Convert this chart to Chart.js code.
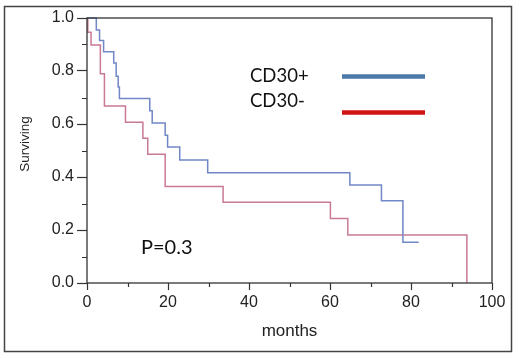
<!DOCTYPE html>
<html>
<head>
<meta charset="utf-8">
<script src="https://cdn.jsdelivr.net/npm/chart.js@4"></script>
<style>
  body { margin: 0; background: #fff; }
  canvas { display: block; }
</style>
</head>
<body>
<canvas id="kmChart" width="520" height="359"></canvas>
<script>
// Kaplan-Meier steps (months, surviving fraction)
var plusMonths = [0, 2.3, 3.1, 4.1, 6.6, 7.2, 7.7, 8.0, 15.5, 16.1, 19.3, 19.9, 22.9, 29.8, 64.9, 72.7, 78.0, 81.9];
var plusSurv = [1.0, 0.955, 0.915, 0.873, 0.83, 0.78, 0.74, 0.696, 0.65, 0.604, 0.558, 0.513, 0.464, 0.416, 0.37, 0.31, 0.154, 0.154];

var minusMonths = [0, 0.2, 1.0, 3.3, 4.3, 9.5, 13.8, 15.0, 19.3, 33.6, 60.1, 64.4, 93.8];
var minusSurv = [1.0, 0.946, 0.898, 0.79, 0.668, 0.607, 0.546, 0.486, 0.364, 0.305, 0.243, 0.181, 0.0];

var seriesNames = ["CD30+", "CD30-"];
var lineColors = ["#7187c6", "#c97a93"];
var legendColors = ["#4d79a8", "#d11414"];

var yMinorTicks = [0.1, 0.3, 0.5, 0.7, 0.9];
var xMinorTicks = [10, 30, 50, 70, 90];
var pValueText = "P=0.3";

function toPoints(xs, ys) {
  return xs.map((x, i) => ({ x: x, y: ys[i] }));
}

const axisColor = "#333";
const labelFont = "Lato, 'Open Sans', sans-serif";

const extras = {
  id: "extras",
  afterDraw(chart) {
    const ctx = chart.ctx;
    const a = chart.chartArea;
    const xs = chart.scales.x;
    const ys = chart.scales.y;
    ctx.save();
    // outer frame
    ctx.strokeStyle = "#444";
    ctx.lineWidth = 1.5;
    ctx.strokeRect(4.5, 6.5, 507, 345);
    // plot box
    ctx.strokeStyle = axisColor;
    ctx.lineWidth = 1.3;
    ctx.strokeRect(a.left, a.top, a.right - a.left, a.bottom - a.top);
    // minor ticks
    ctx.lineWidth = 1.2;
    ctx.beginPath();
    yMinorTicks.forEach(v => {
      const y = Math.round(ys.getPixelForValue(v)) + 0.5;
      ctx.moveTo(a.left - 5, y);
      ctx.lineTo(a.left, y);
    });
    xMinorTicks.forEach(v => {
      const x = Math.round(xs.getPixelForValue(v)) + 0.5;
      ctx.moveTo(x, a.bottom);
      ctx.lineTo(x, a.bottom + 4);
    });
    ctx.stroke();
    // y title
    ctx.fillStyle = "#222";
    ctx.font = "13.5px 'Liberation Sans', Arial, sans-serif";
    ctx.textAlign = "center";
    ctx.textBaseline = "middle";
    ctx.translate(25, 144);
    ctx.rotate(-Math.PI / 2);
    ctx.fillText("Surviving", 0, 0);
    ctx.restore();

    // legend: label on the left, thick line on the right
    ctx.save();
    ctx.font = "18.5px " + labelFont;
    ctx.fillStyle = "#111";
    ctx.textAlign = "left";
    ctx.textBaseline = "alphabetic";
    ctx.fillText(seriesNames[0], 250, 82);
    ctx.fillText(seriesNames[1], 250, 107);
    ctx.lineWidth = 4.5;
    ctx.strokeStyle = legendColors[0];
    ctx.beginPath();
    ctx.moveTo(342, 76.5);
    ctx.lineTo(425, 76.5);
    ctx.stroke();
    ctx.strokeStyle = legendColors[1];
    ctx.beginPath();
    ctx.moveTo(342, 112.5);
    ctx.lineTo(425, 112.5);
    ctx.stroke();
    // p-value
    ctx.font = "20px " + labelFont;
    ctx.fillText(pValueText, 141, 254);
    ctx.restore();
  }
};

function drawChart() {
  new Chart("kmChart", {
    type: "line",
    data: {
      datasets: [{
        label: seriesNames[0],
        data: toPoints(plusMonths, plusSurv),
        borderColor: lineColors[0],
        borderWidth: 1.5,
        stepped: "before",
        pointRadius: 0,
        fill: false,
        clip: false
      }, {
        label: seriesNames[1],
        data: toPoints(minusMonths, minusSurv),
        borderColor: lineColors[1],
        borderWidth: 1.5,
        stepped: "before",
        pointRadius: 0,
        fill: false,
        clip: false
      }]
    },
    options: {
      responsive: false,
      animation: false,
      devicePixelRatio: 1,
      layout: { padding: { left: 0, top: 18, right: 28, bottom: 0 } },
      plugins: {
        legend: { display: false },
        tooltip: { enabled: false }
      },
      scales: {
        x: {
          type: "linear",
          min: 0,
          max: 100,
          afterFit: s => { s.height = 76; },
          border: { display: false },
          grid: { drawOnChartArea: false, tickLength: 7, color: axisColor, tickWidth: 1.2 },
          ticks: {
            stepSize: 20,
            padding: 3,
            color: "#222",
            font: { family: "'Liberation Sans', Arial, sans-serif", size: 16 }
          },
          title: {
            display: true,
            text: "months",
            color: "#222",
            padding: { top: 0, bottom: 17 },
            font: { family: "'Liberation Sans', Arial, sans-serif", size: 17 }
          }
        },
        y: {
          min: 0,
          max: 1,
          afterFit: s => { s.width = 87; },
          border: { display: false },
          grid: { drawOnChartArea: false, tickLength: 10, color: axisColor, tickWidth: 1.2 },
          ticks: {
            stepSize: 0.2,
            padding: 3,
            color: "#222",
            font: { family: "'Liberation Sans', Arial, sans-serif", size: 16 },
            callback: v => v.toFixed(1)
          }
        }
      }
    },
    plugins: [extras]
  });
}

// make sure Lato is ready before the canvas text is drawn
Promise.all([
  document.fonts.load("18.5px Lato"),
  document.fonts.load("20px Lato")
]).then(drawChart, drawChart);
</script>
</body>
</html>
